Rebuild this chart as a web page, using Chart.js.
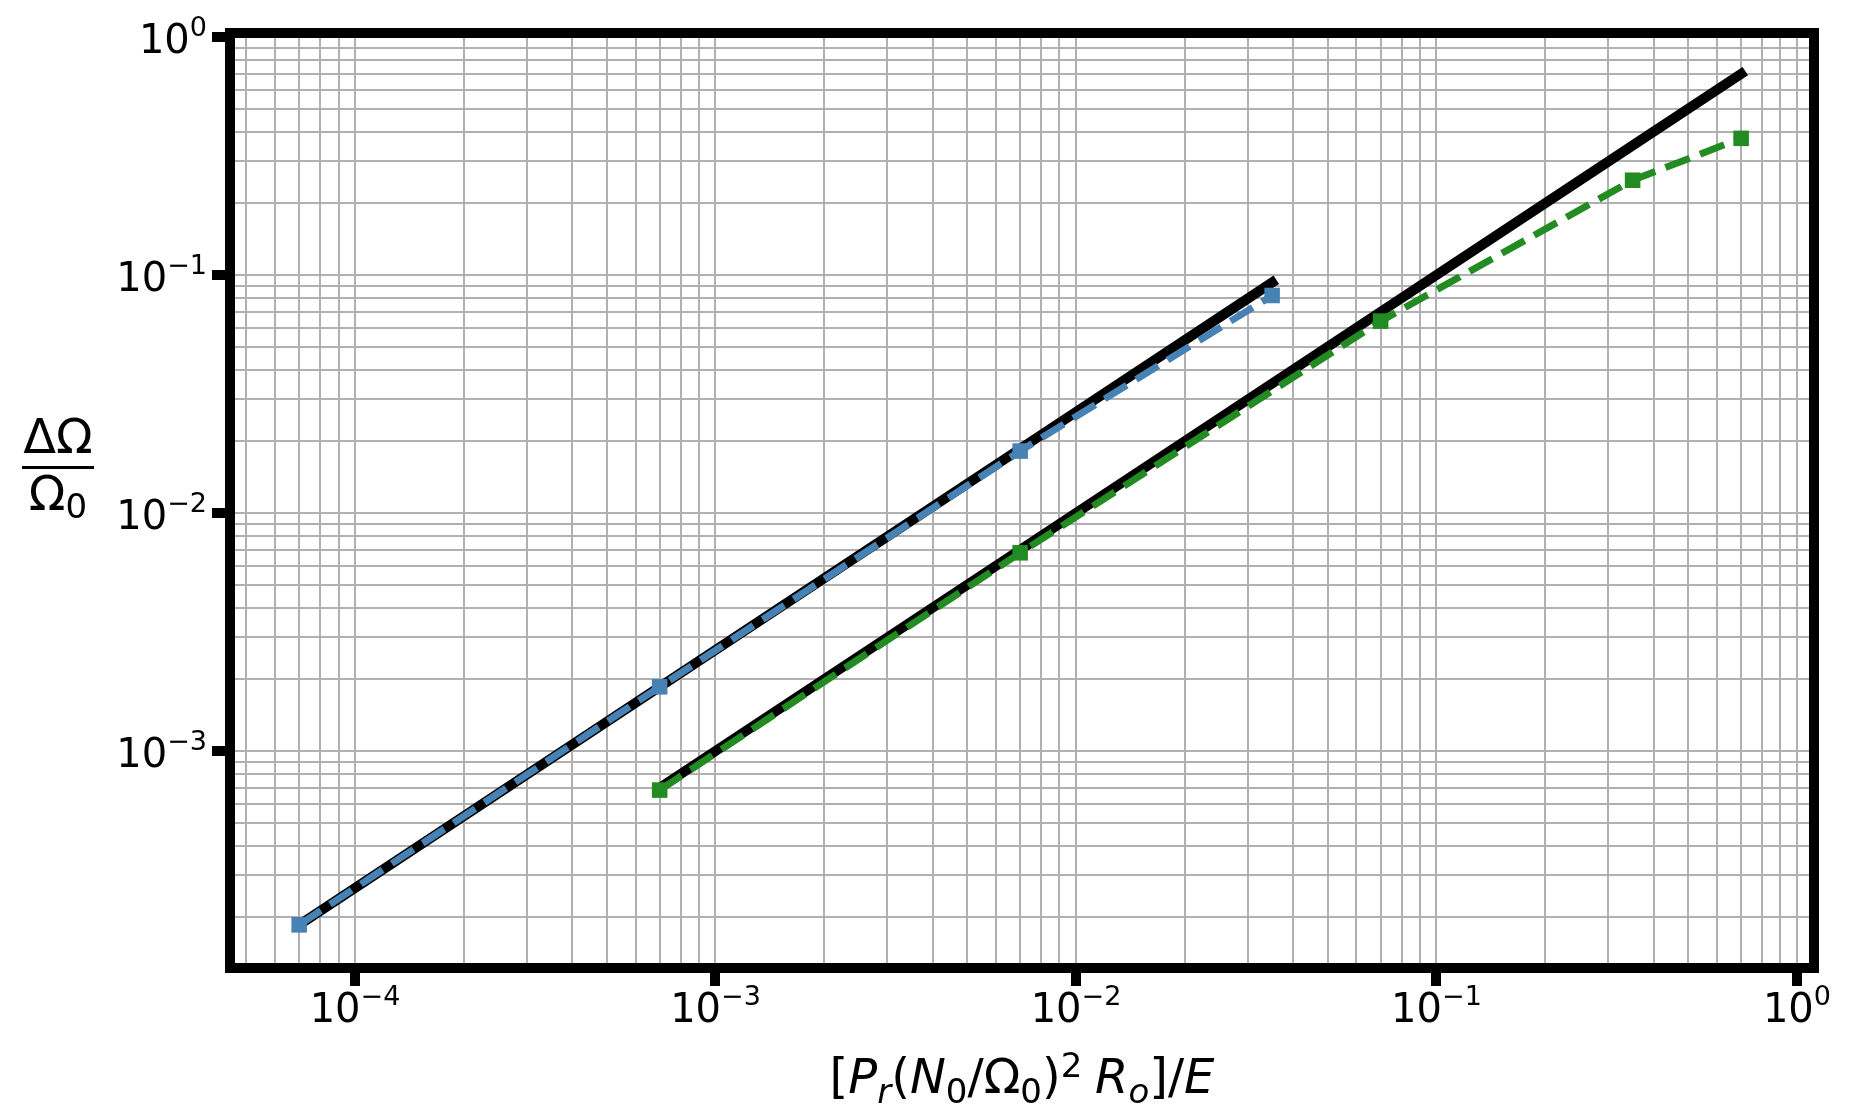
<!DOCTYPE html>
<html>
<head>
<meta charset="utf-8">
<title>ΔΩ/Ω0 scaling</title>
<script src="https://cdn.jsdelivr.net/npm/chart.js@4.4.1/dist/chart.umd.min.js"></script>
<style>
  html, body { margin: 0; padding: 0; background: #fff; }
  canvas { display: block; }
</style>
</head>
<body>
<canvas id="chart" width="1855" height="1120"></canvas>
<script>
// values
const blueX = [7e-5, 7e-4, 7e-3, 3.5e-2];
const blueY = [1.86e-4, 1.86e-3, 1.82e-2, 8.2e-2];
const blueFitY = [1.86e-4, 1.86e-3, 1.86e-2, 9.3e-2];

const greenX = [7e-4, 7e-3, 7e-2, 0.35, 0.7];
const greenY = [6.85e-4, 6.8e-3, 6.4e-2, 0.25, 0.375];
const greenFitY = [7e-4, 7e-3, 7e-2, 0.35, 0.7];

// major tick exponents (labels 10^n)
const xTickExps = [-4, -3, -2, -1, 0];
const yTickExps = [-3, -2, -1, 0];

const FONT = '"DejaVu Sans", sans-serif';
const GRID = '#b0b0b0';

const pairs = (xs, ys) => xs.map((x, i) => ({ x: x, y: ys[i] }));

// 1..9 x 10^k ticks so every decade gets its minor grid lines
function logTicks(scale) {
  const out = [];
  const lo = Math.floor(Math.log10(scale.min));
  const hi = Math.ceil(Math.log10(scale.max));
  for (let e = lo; e <= hi; e++) {
    for (let m = 1; m <= 9; m++) {
      const v = m * Math.pow(10, e);
      if (v >= scale.min && v <= scale.max) out.push({ value: v, major: m === 1 });
    }
  }
  scale.ticks = out;
}

function fontOf(p) {
  return (p.italic ? 'italic ' : '') + p.size + 'px ' + FONT;
}

// draw a run of text pieces with their own size / offset (poor man's mathtext)
function drawRich(ctx, parts, x, y, align) {
  let total = 0;
  parts.forEach(p => {
    ctx.font = fontOf(p);
    p.w = ctx.measureText(p.t).width;
    total += p.w;
  });
  let cx = x;
  if (align === 'center') cx = x - total / 2;
  else if (align === 'right') cx = x - total;
  ctx.textAlign = 'left';
  ctx.textBaseline = 'alphabetic';
  parts.forEach(p => {
    ctx.font = fontOf(p);
    ctx.fillText(p.t, cx, y + (p.dy || 0));
    cx += p.w;
  });
}

function powLabel(e) {
  const exp = e < 0 ? '\u2212' + (-e) : String(e);
  return [
    { t: '10', size: 40 },
    { t: exp, size: 27, dy: -17 }
  ];
}

const framePlugin = {
  id: 'frame',
  afterDatasetsDraw(chart) {
    const { ctx, chartArea: a } = chart;
    ctx.save();
    ctx.strokeStyle = '#000';
    ctx.lineWidth = 10;
    ctx.lineJoin = 'miter';
    ctx.strokeRect(a.left, a.top, a.right - a.left, a.bottom - a.top);
    ctx.restore();
  }
};

const labelPlugin = {
  id: 'mathLabels',
  afterDraw(chart) {
    const { ctx, chartArea: a } = chart;
    const xs = chart.scales.x;
    const ys = chart.scales.y;
    ctx.save();
    ctx.fillStyle = '#000';

    xTickExps.forEach(e => {
      const px = xs.getPixelForValue(Math.pow(10, e));
      drawRich(ctx, powLabel(e), px, a.bottom + 54, 'center');
    });
    yTickExps.forEach(e => {
      const py = ys.getPixelForValue(Math.pow(10, e));
      drawRich(ctx, powLabel(e), 207, py + 16, 'right');
    });

    // x label: [P_r(N_0/Ω_0)^2 R_o]/E
    const F = 48, S = 34;
    drawRich(ctx, [
      { t: '[', size: F },
      { t: 'P', size: F, italic: true },
      { t: 'r', size: S, italic: true, dy: 10 },
      { t: '(', size: F },
      { t: 'N', size: F, italic: true },
      { t: '0', size: S, dy: 10 },
      { t: '/', size: F },
      { t: '\u03A9', size: F },
      { t: '0', size: S, dy: 10 },
      { t: ')', size: F },
      { t: '2', size: S, dy: -16 },
      { t: ' ', size: 40 },
      { t: 'R', size: F, italic: true },
      { t: 'o', size: S, italic: true, dy: 10 },
      { t: ']', size: F },
      { t: '/', size: F },
      { t: 'E', size: F, italic: true }
    ], (a.left + a.right) / 2, 1093, 'center');

    // y label: ΔΩ / Ω_0 as a stacked fraction
    const cxy = 58;
    drawRich(ctx, [{ t: '\u0394\u03A9', size: F }], cxy, 453, 'center');
    ctx.fillRect(22, 466, 72, 3);
    drawRich(ctx, [
      { t: '\u03A9', size: F },
      { t: '0', size: S, dy: 8 }
    ], cxy, 510, 'center');

    ctx.restore();
  }
};

function axisOptions(pos, min, max) {
  return {
    type: 'logarithmic',
    position: pos,
    min: min,
    max: max,
    afterBuildTicks: logTicks,
    ticks: { display: false, autoSkip: false },
    border: { display: false },
    grid: {
      color: GRID,
      lineWidth: 2,
      drawTicks: true,
      tickLength: 18,
      tickWidth: ctx => (ctx.tick && ctx.tick.major ? 10 : 0),
      tickColor: ctx => (ctx.tick && ctx.tick.major ? '#000' : 'rgba(0,0,0,0)')
    }
  };
}

const xAxis = axisOptions('bottom', 4.5e-5, 1.115);
xAxis.afterFit = s => { s.height = 152; };
const yAxis = axisOptions('left', 1.225e-4, 1.039);
yAxis.afterFit = s => { s.width = 230; };

const dashed = (label, xs, ys, color, order) => ({
  label: label,
  data: pairs(xs, ys),
  borderColor: color,
  backgroundColor: color,
  borderWidth: 7,
  borderDash: [26, 11],
  borderCapStyle: 'butt',
  pointStyle: 'rect',
  pointRadius: 11,
  pointBorderWidth: 0,
  pointBackgroundColor: color,
  tension: 0,
  order: order
});

const solid = (label, xs, ys, order) => ({
  label: label,
  data: pairs(xs, ys),
  borderColor: '#000',
  borderWidth: 10,
  borderCapStyle: 'square',
  borderJoinStyle: 'round',
  pointRadius: 0,
  tension: 0,
  order: order
});

new Chart(document.getElementById('chart'), {
  type: 'line',
  data: {
    datasets: [
      dashed('blue', blueX, blueY, '#4682b4', 0),
      dashed('green', greenX, greenY, '#228b22', 1),
      solid('fit blue', blueX, blueFitY, 2),
      solid('fit green', greenX, greenFitY, 3)
    ]
  },
  options: {
    responsive: false,
    animation: false,
    events: [],
    layout: { padding: { top: 33, right: 41, left: 0, bottom: 0 } },
    plugins: {
      legend: { display: false },
      tooltip: { enabled: false }
    },
    scales: { x: xAxis, y: yAxis }
  },
  plugins: [framePlugin, labelPlugin]
});
</script>
</body>
</html>
